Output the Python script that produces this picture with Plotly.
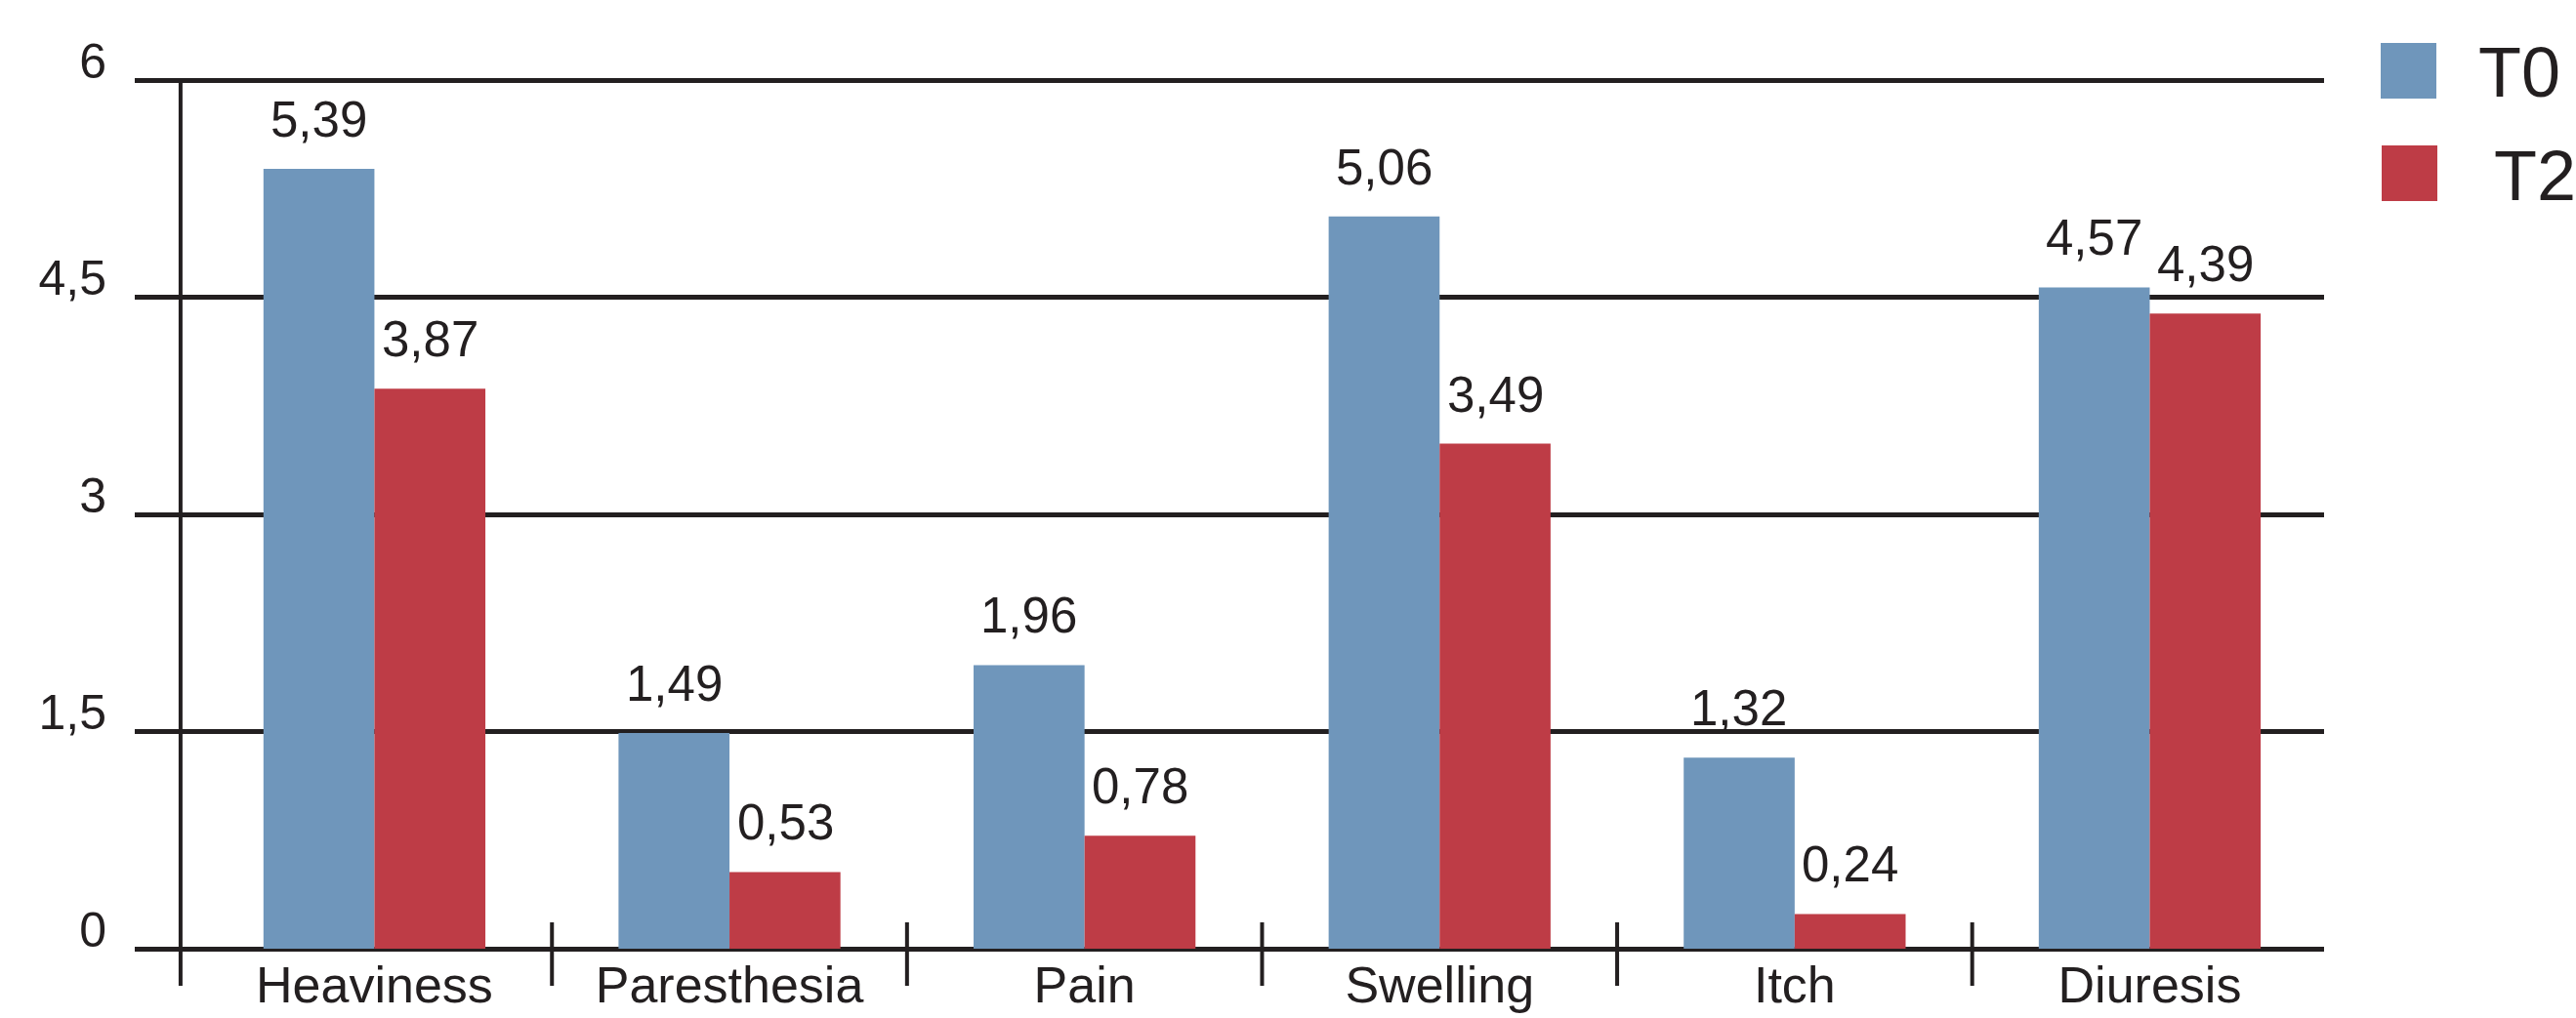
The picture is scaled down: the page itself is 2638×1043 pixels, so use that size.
import plotly.graph_objects as go

categories = ["Heaviness", "Paresthesia", "Pain", "Swelling", "Itch", "Diuresis"]
t0_values = [5.39, 1.49, 1.96, 5.06, 1.32, 4.57]
t2_values = [3.87, 0.53, 0.78, 3.49, 0.24, 4.39]
series_names = ["T0", "T2"]
y_tickvals = [0, 1.5, 3, 4.5, 6]
y_ticktext = ["0", "1,5", "3", "4,5", "6"]

BLUE = "#6F96BB"
RED = "#BE3C46"
INK = "#231F20"
FONT = "Liberation Sans, Arial, Helvetica, sans-serif"

W, H = 2638, 1043
Y_TOP = 6.03
ML, MR, MB = 138, 258, 71
PX_PER_UNIT = (972 - 82) / 6.0
MT = int(round(82 - (Y_TOP - 6) * PX_PER_UNIT))
PW = W - ML - MR
PH = H - MT - MB


def fmt(v):
    return f"{v:.2f}".replace(".", ",")


fig = go.Figure()
fig.add_trace(go.Bar(x=categories, y=t0_values, name=series_names[0],
                     marker=dict(color=BLUE, line=dict(width=0))))
fig.add_trace(go.Bar(x=categories, y=t2_values, name=series_names[1],
                     marker=dict(color=RED, line=dict(width=0))))

# value labels above bars
bar_half = 57
for vals, sh in ((t0_values, -bar_half), (t2_values, bar_half)):
    for c, v in zip(categories, vals):
        fig.add_annotation(x=c, y=v, xref="x", yref="y", text=fmt(v),
                           showarrow=False, xshift=sh, yshift=20,
                           yanchor="bottom", xanchor="center",
                           font=dict(family=FONT, size=51, color=INK))


def px_x(p):
    return (p - ML) / PW


def px_y(p):
    return (H - MB - p) / PH


shapes = []
# y axis vertical line (extends below baseline)
yaxis_x = -0.546
shapes.append(dict(type="line", xref="x", yref="paper", x0=yaxis_x, x1=yaxis_x,
                   y0=px_y(82), y1=px_y(1010), line=dict(color=INK, width=4), layer="above"))
# category separators crossing baseline
for k in range(len(categories)):
    xs = k + 0.5
    shapes.append(dict(type="line", xref="x", yref="paper", x0=xs, x1=xs,
                       y0=px_y(945), y1=px_y(1010), line=dict(color=INK, width=4),
                       layer="above"))

# manual legend
shapes.append(dict(type="rect", xref="paper", yref="paper",
                   x0=px_x(2438), x1=px_x(2495), y0=px_y(101), y1=px_y(44),
                   fillcolor=BLUE, line=dict(width=0)))
shapes.append(dict(type="rect", xref="paper", yref="paper",
                   x0=px_x(2439), x1=px_x(2496), y0=px_y(206), y1=px_y(149),
                   fillcolor=RED, line=dict(width=0)))
fig.add_annotation(xref="paper", yref="paper", x=px_x(2536), y=px_y(74),
                   text=series_names[0], showarrow=False, xanchor="left", yanchor="middle",
                   font=dict(family=FONT, size=72, color=INK))
fig.add_annotation(xref="paper", yref="paper", x=px_x(2552), y=px_y(180),
                   text=series_names[1], showarrow=False, xanchor="left", yanchor="middle",
                   font=dict(family=FONT, size=72, color=INK))

fig.update_layout(
    width=W, height=H, autosize=False,
    margin=dict(l=ML, r=MR, t=MT, b=MB, pad=0, autoexpand=False),
    paper_bgcolor="white", plot_bgcolor="white",
    barmode="group", bargap=0.375, bargroupgap=0,
    showlegend=False,
    shapes=shapes,
    font=dict(family=FONT, color=INK),
    xaxis=dict(type="category", range=[-0.675, 5.491], showgrid=False,
               showline=False, zeroline=False, ticks="", automargin=False,
               tickfont=dict(family=FONT, size=52, color=INK),
               ticklabelstandoff=2),
    yaxis=dict(range=[0, Y_TOP], tickvals=y_tickvals, ticktext=y_ticktext,
               showgrid=True, gridcolor=INK, gridwidth=4.5,
               zeroline=True, zerolinecolor=INK, zerolinewidth=5,
               showline=False, ticks="", automargin=False,
               ticklabelshift=-20, ticklabelstandoff=28,
               tickfont=dict(family=FONT, size=50, color=INK)),
)

fig.write_html("out.html")
